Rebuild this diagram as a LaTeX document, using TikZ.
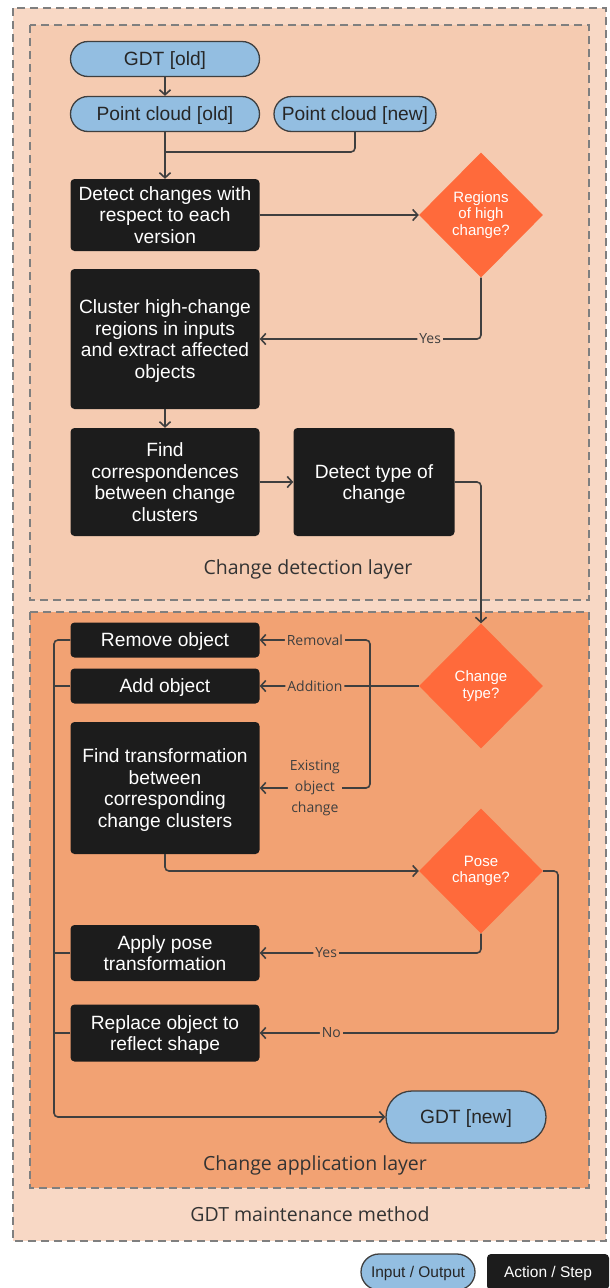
\documentclass[tikz,border=0pt]{standalone}
\usepackage{fontspec}
\setmainfont{Liberation Sans}
\newfontfamily\labelfont{Open Sans}
\usetikzlibrary{positioning,shapes.geometric,arrows.meta}

\definecolor{outerbg}{HTML}{F8D8C5}
\definecolor{detectbg}{HTML}{F5CBB1}
\definecolor{applybg}{HTML}{F2A273}
\definecolor{framegray}{HTML}{7F7F7F}
\definecolor{decisionred}{HTML}{FF6A3B}
\definecolor{iofill}{HTML}{93BEE1}
\definecolor{stepfill}{HTML}{1C1C1C}
\definecolor{wirecol}{HTML}{3F3F3F}

\begin{document}
\begin{tikzpicture}[x=1pt, y=-1pt, >={Straight Barb[length=5pt,width=11pt]},
  frame/.style={draw=framegray, line width=1.8pt, dash pattern=on 8pt off 5pt},
  io/.style={draw=wirecol, line width=1.3pt, fill=iofill, text=black!85,
    rounded corners=17.5pt, minimum height=35pt, inner sep=0pt, text depth=0pt,
    font=\fontsize{19.2}{21.5}\selectfont},
  stepbox/.style={fill=stepfill, text=white, rounded corners=4pt, minimum width=189pt,
    inner sep=0pt, text depth=0pt, align=center, font=\fontsize{19.2}{21.5}\selectfont},
  decision/.style={diamond, fill=decisionred, text=white, minimum width=124pt,
    minimum height=125pt, inner sep=0pt, align=center, font=\fontsize{15}{16.5}\selectfont},
  conn/.style={draw=wirecol, line width=1.6pt, rounded corners=4pt},
  lbl/.style={fill=#1, text=wirecol, inner sep=2pt, align=center,
    font=\labelfont\fontsize{14}{21}\selectfont},
  layername/.style={text=black!80, font=\labelfont\fontsize{19.5}{22}\selectfont}]

  \useasboundingbox (0,0) rectangle (610,1288);

  % Layers
  \draw[frame, fill=outerbg] (13,8) rectangle (606,1241);
  \draw[frame, fill=detectbg] (30,25) rectangle (589,600);
  \draw[frame, fill=applybg] (30,612) rectangle (589,1188);
  \node[layername] (detlayer) at (308,569) {Change detection layer};
  \node[layername] (applayer) at (315,1165) {Change application layer};
  \node[layername] (method) at (310,1214) {GDT maintenance method};

  % Change detection
  \node[io, minimum width=189pt] (gdtold) at (165,59) {GDT [old]};
  \node[io, minimum width=189pt] (pcold) at (165,114) {Point cloud [old]};
  \node[io, minimum width=162pt] (pcnew) at (355,114) {Point cloud [new]};
  \node[stepbox, minimum height=72pt] (detect) at (165,215) {Detect changes with\\respect to each\\version};
  \node[decision] (regions) at (481,215) {Regions\\of high\\change?};
  \node[stepbox, minimum height=140pt] (cluster) at (165,339) {Cluster high-change\\regions in inputs\\and extract affected\\objects};
  \node[stepbox, minimum height=108pt] (findcorr) at (165,482) {Find\\correspondences\\between change\\clusters};
  \node[stepbox, minimum width=161pt, minimum height=108pt] (dettype) at (374,482) {Detect type of\\change};
  \coordinate (merge) at (165,152);

  \draw[conn, ->] (gdtold) -- (pcold);
  \draw[conn, ->] (pcold) -- (detect);
  \draw[conn] (pcnew.south) |- (merge);
  \draw[conn, ->] (detect) -- (regions);
  \draw[conn, ->] (regions.south) |- node[lbl=detectbg, pos=0.615] {Yes} (cluster.east);
  \draw[conn, ->] (cluster) -- (findcorr);
  \draw[conn, ->] (findcorr) -- (dettype);

  % Change application
  \node[decision] (changetype) at (481,686) {Change\\type?};
  \node[stepbox, minimum height=35pt] (remobj) at (165,640) {Remove object};
  \node[stepbox, minimum height=35pt] (addobj) at (165,686) {Add object};
  \node[stepbox, minimum height=132pt] (findtrans) at (165,788) {Find transformation\\between\\corresponding\\change clusters};
  \node[decision] (posechange) at (481,871) {Pose\\change?};
  \node[stepbox, minimum height=56pt] (applypose) at (165,953) {Apply pose\\transformation};
  \node[stepbox, minimum height=57pt] (replace) at (165,1033) {Replace object to\\reflect shape};
  \node[io, minimum width=160pt, minimum height=52pt, rounded corners=26pt] (gdtnew) at (466,1117) {GDT [new]};
  \coordinate (split) at (370,686);
  \coordinate (noturn) at (558,871);
  \coordinate (bus) at (54,640);

  \draw[conn, ->] (dettype.east) -| (changetype.north);
  \draw[conn] (changetype.west) -- (split);
  \draw[conn, ->] (split) -- node[lbl=applybg] {Addition} (addobj.east);
  \draw[conn, ->] (split) |- node[lbl=applybg, pos=0.75] {Removal} (remobj.east);
  \draw[conn, ->] (split) |- node[lbl=applybg, pos=0.75] {Existing\\object\\change} (findtrans.east);
  \draw[conn, ->] (findtrans.south) |- (posechange.west);
  \draw[conn, ->] (posechange.south) |- node[lbl=applybg, pos=0.85] {Yes} (applypose.east);
  \draw[conn, ->] (posechange.east) -- (noturn) |- node[lbl=applybg, pos=0.88] {No} (replace.east);
  \draw[conn, ->] (remobj.west) -- (bus) |- (gdtnew.west);
  \draw[conn] (addobj.west) -- (addobj.west -| bus);
  \draw[conn] (applypose.west) -- (applypose.west -| bus);
  \draw[conn] (replace.west) -- (replace.west -| bus);

  % Legend
  \node[io, minimum width=114pt, minimum height=36pt, rounded corners=18pt,
    font=\fontsize{15.5}{18}\selectfont] (legio) at (418,1272) {Input / Output};
  \node[stepbox, minimum width=122pt, minimum height=36pt,
    font=\fontsize{15.5}{18}\selectfont] (legstep) at (548,1272) {Action / Step};

\end{tikzpicture}
\end{document}
